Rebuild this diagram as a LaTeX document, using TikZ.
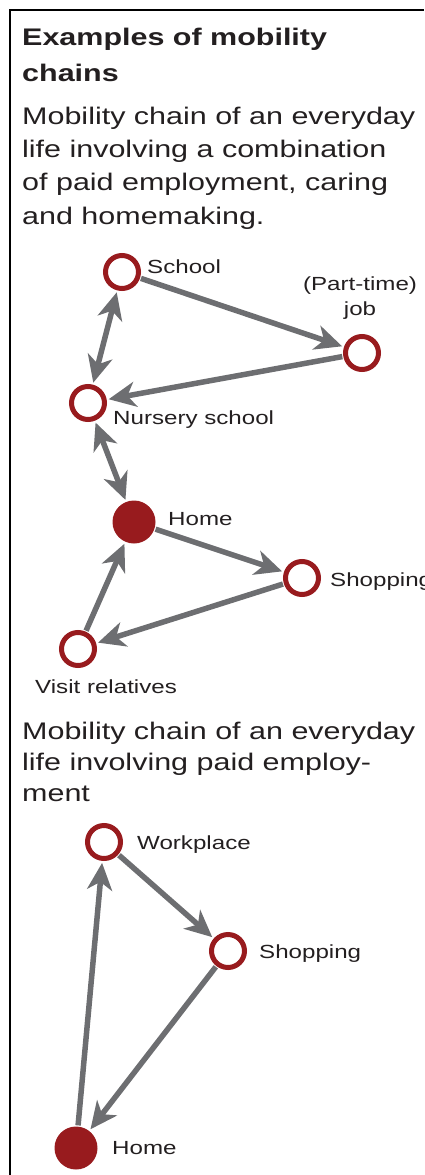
\documentclass[tikz,border=0pt]{standalone}
\usepackage{fontspec}
\setmainfont{Liberation Sans}[FakeStretch=1.27]
\usetikzlibrary{arrows.meta}

\definecolor{ringred}{HTML}{981B1E}
\definecolor{flowgray}{HTML}{6D6E71}
\definecolor{inktext}{HTML}{231F20}

\tikzset{
  stop/.style={circle, draw=ringred, line width=5pt, minimum size=33pt, inner sep=0pt},
  base/.style={circle, fill=ringred, minimum size=43pt, inner sep=0pt},
  tip/.tip={Stealth[length=27pt, width=25pt, inset=8pt]},
  flow/.style={draw=flowgray, line width=5.5pt, -tip, shorten >=2pt, shorten <=1pt},
  both/.style={flow, tip-tip, shorten <=2pt},
  place/.style={anchor=base west, inner sep=0pt, text=inktext, font=\fontsize{19}{25}\selectfont},
  blurb/.style={anchor=base west, inner sep=0pt, align=left, text=inktext}
}

\begin{document}
\begin{tikzpicture}[x=1pt, y=1pt]
  \useasboundingbox (0,0) rectangle (424,-1175);
  % frame
  \draw[line width=2pt] (10,-1175) -- (10,-10) -- (424,-10);

  % headings (placed by the baseline of their last line)
  \node[blurb, font=\bfseries\fontsize{24}{36}\selectfont] (title) at (22,-81)
    {Examples of mobility\\chains};
  \node[blurb, font=\fontsize{24}{33.3}\selectfont] (intro1) at (22,-224)
    {Mobility chain of an everyday\\life involving a combination\\of paid employment, caring\\and homemaking.};

  % first chain
  \node[stop] (school)  at (122,-272) {};
  \node[stop] (job)     at (362,-353) {};
  \node[stop] (nursery) at (88,-403)  {};
  \node[base] (home)    at (134,-522) {};
  \node[stop] (shop)    at (302,-578) {};
  \node[stop] (visit)   at (78,-649)  {};

  \node[place] (schoollbl)  at (147,-273) {School};
  \node[place, anchor=base, align=center] (joblbl) at (360,-315) {(Part-time)\\job};
  \node[place] (nurserylbl) at (113,-424) {Nursery school};
  \node[place] (homelbl)    at (168,-525) {Home};
  \node[place] (shoplbl)    at (330,-586) {Shopping};
  \node[place] (visitlbl)   at (35,-693)  {Visit relatives};

  \draw[flow] (school) -- (job);
  \draw[flow] (job) -- (nursery);
  \draw[both] (nursery) -- (school);
  \draw[both] (home) -- (nursery);
  \draw[flow] (home) -- (shop);
  \draw[flow] (shop) -- (visit);
  \draw[flow] (visit) -- (home);

  \node[blurb, font=\fontsize{24}{31}\selectfont] (intro2) at (22,-801)
    {Mobility chain of an everyday\\life involving paid employ-\\ment};

  % second chain
  \node[stop] (work)  at (104,-842)  {};
  \node[stop] (shop2) at (228,-951)  {};
  \node[base] (home2) at (76,-1148)  {};

  \node[place] (worklbl)  at (137,-849)  {Workplace};
  \node[place] (shop2lbl) at (259,-958)  {Shopping};
  \node[place] (home2lbl) at (112,-1154) {Home};

  \draw[flow] (home2) -- (work);
  \draw[flow] (work) -- (shop2);
  \draw[flow] (shop2) -- (home2);
\end{tikzpicture}
\end{document}
